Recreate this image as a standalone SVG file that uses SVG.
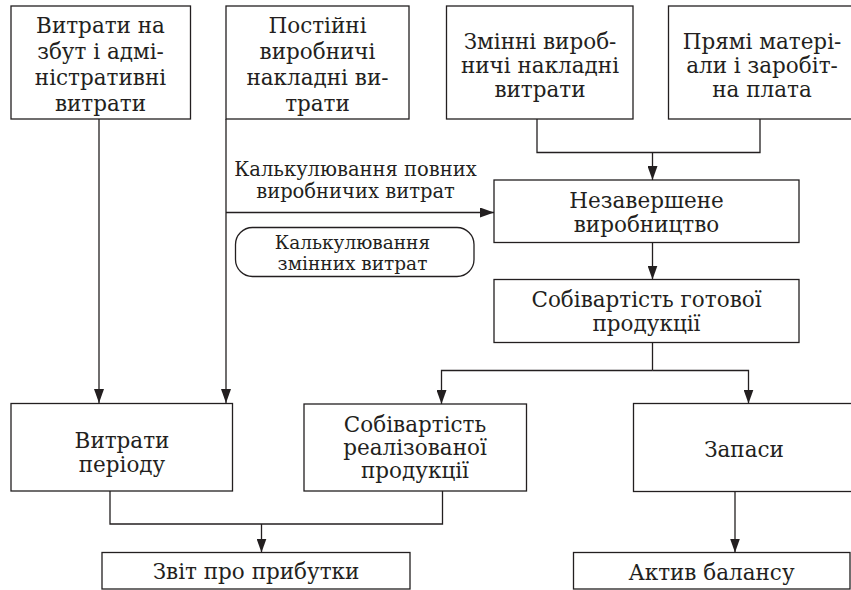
<svg xmlns="http://www.w3.org/2000/svg" width="851" height="590" viewBox="0 0 851 590">
<style>
.box{fill:#ffffff;stroke:#231f20;stroke-width:1.3}
.t{font-family:"DejaVu Serif","Liberation Serif",serif;font-size:21.5px;fill:#231f20;text-anchor:middle}
.lbl{font-size:19.5px}
.sm{font-size:18.5px}
.ln{fill:none;stroke:#231f20;stroke-width:1.3}
</style>
<defs>
<marker id="ah" markerUnits="userSpaceOnUse" markerWidth="14" markerHeight="10" refX="14" refY="5" orient="auto">
<path d="M0,0 L14,5 L0,10 z" fill="#231f20"/>
</marker>
</defs>
<rect width="851" height="590" fill="#ffffff"/>

<g id="connectors">
<path class="ln" d="M99,119 V403" marker-end="url(#ah)"/>
<path class="ln" d="M226,119 V403" marker-end="url(#ah)"/>
<path class="ln" d="M226,212.5 H494" marker-end="url(#ah)"/>
<path class="ln" d="M537,119 V152.5 H760 V119"/>
<path class="ln" d="M652.5,152.5 V180" marker-end="url(#ah)"/>
<path class="ln" d="M652.5,242.5 V279.5" marker-end="url(#ah)"/>
<path class="ln" d="M652.5,342.5 V370.5"/>
<path class="ln" d="M652.5,370.5 H441.5 V404" marker-end="url(#ah)"/>
<path class="ln" d="M652.5,370.5 H748.5 V403.5" marker-end="url(#ah)"/>
<path class="ln" d="M110,491 V524 H442.5 V491"/>
<path class="ln" d="M261.5,524 V552.5" marker-end="url(#ah)"/>
<path class="ln" d="M735,491.5 V552.5" marker-end="url(#ah)"/>
</g>

<g id="n1">
<rect class="box" x="11" y="6" width="179.5" height="113"/>
<text class="t" x="100.5" y="33">Витрати на</text>
<text class="t" x="100.5" y="59">збут і адмі-</text>
<text class="t" x="100.5" y="85">ністративні</text>
<text class="t" x="100.5" y="111">витрати</text>
</g>
<g id="n2">
<rect class="box" x="226" y="6" width="183" height="113"/>
<text class="t" x="317.5" y="33">Постійні</text>
<text class="t" x="317.5" y="59">виробничі</text>
<text class="t" x="317.5" y="85">накладні ви-</text>
<text class="t" x="317.5" y="111">трати</text>
</g>
<g id="n3">
<rect class="box" x="446.5" y="6" width="186.5" height="113"/>
<text class="t" x="540" y="48.5">Змінні вироб-</text>
<text class="t" x="540" y="72.5">ничі накладні</text>
<text class="t" x="540" y="96.5">витрати</text>
</g>
<g id="n4">
<rect class="box" x="668.5" y="6" width="190" height="113"/>
<text class="t" x="762" y="48.5">Прямі матері-</text>
<text class="t" x="762" y="72.5">али і заробіт-</text>
<text class="t" x="762" y="96.5">на плата</text>
</g>
<g id="label-full">
<text class="t lbl" x="355.5" y="175.5">Калькулювання повних</text>
<text class="t lbl" x="355.5" y="198">виробничих витрат</text>
</g>
<g id="n-variable">
<rect class="box" x="235.5" y="227.5" width="238.5" height="49" rx="17" ry="17"/>
<text class="t sm" x="352.5" y="249">Калькулювання</text>
<text class="t sm" x="352.5" y="270">змінних витрат</text>
</g>
<g id="n5">
<rect class="box" x="494" y="180" width="305" height="62.5"/>
<text class="t" x="646.5" y="207.5">Незавершене</text>
<text class="t" x="646.5" y="231.5">виробництво</text>
</g>
<g id="n6">
<rect class="box" x="494" y="279.5" width="305" height="63"/>
<text class="t" x="646.5" y="306.5">Собівартість готової</text>
<text class="t" x="646.5" y="330.5">продукції</text>
</g>
<g id="n7">
<rect class="box" x="11" y="403.5" width="221.5" height="87.5"/>
<text class="t" x="122" y="447.5">Витрати</text>
<text class="t" x="122" y="471.5">періоду</text>
</g>
<g id="n8">
<rect class="box" x="304" y="404" width="222.5" height="87"/>
<text class="t" x="415" y="432">Собівартість</text>
<text class="t" x="415" y="455">реалізованої</text>
<text class="t" x="415" y="478">продукції</text>
</g>
<g id="n9">
<rect class="box" x="633.5" y="403.5" width="225" height="88"/>
<text class="t" x="744" y="456.5">Запаси</text>
</g>
<g id="n10">
<rect class="box" x="102" y="552.5" width="308" height="36.5"/>
<text class="t" x="256" y="579">Звіт про прибутки</text>
</g>
<g id="n11">
<rect class="box" x="573.5" y="552.5" width="276.5" height="36.5"/>
<text class="t" x="711.5" y="579.5">Актив балансу</text>
</g>
</svg>
